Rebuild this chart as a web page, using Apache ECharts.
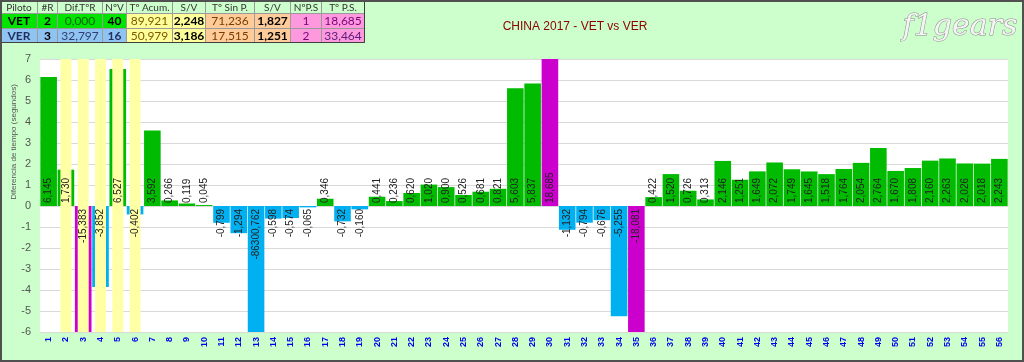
<!DOCTYPE html>
<html><head><meta charset="utf-8">
<script src="https://cdn.jsdelivr.net/npm/echarts@6/dist/echarts.min.js"></script>
<style>html,body{margin:0;padding:0;background:#ccffcc}#c{width:1024px;height:362px}</style>
</head><body><div id="c"></div>
<script>
// ---- data ----
const laps = ['1','2','3','4','5','6','7','8','9','10','11','12','13','14','15','16','17','18','19','20',
  '21','22','23','24','25','26','27','28','29','30','31','32','33','34','35','36','37','38','39','40',
  '41','42','43','44','45','46','47','48','49','50','51','52','53','54','55','56'];
const diffs = [6.145, 1.730, -15.383, -3.852, 6.527, -0.402, 3.592, 0.266, 0.119, 0.045,
  -0.799, -1.294, -86300.762, -0.598, -0.574, -0.065, 0.346, -0.732, -0.160, 0.441,
  0.236, 0.620, 1.020, 0.900, 0.526, 0.681, 0.821, 5.603, 5.837, 18.685,
  -1.132, -0.794, -0.676, -5.255, -18.081, 0.422, 1.520, 0.726, 0.313, 2.146,
  1.251, 1.649, 2.072, 1.749, 1.645, 1.518, 1.764, 2.054, 2.764, 1.670,
  1.808, 2.160, 2.263, 2.026, 2.018, 2.243];
const pitLaps = [3, 30, 35];
const safetyCarLaps = [2, 3, 4, 5, 6];
const yMin = -6, yMax = 7, yStep = 1;
const title = 'CHINA 2017 - VET vs VER';
const yName = 'Diferencia de tiempo (segundos)';
const tableHeader = ['Piloto','#R','Dif.TºR','NºV','Tº Acum.','S/V','Tº Sin P.','S/V','NºP.S','Tº P.S.'];
const rowVET = ['VET','2','0,000','40','89,921','2,248','71,236','1,827','1','18,685'];
const rowVER = ['VER','3','32,797','16','50,979','3,186','17,515','1,251','2','33,464'];

// ---- styles ----
const FONT = 'Liberation Sans';
const fmt = v => v.toFixed(3).replace('.', ',');
const baseLabel = {show: true, rotate: 90, verticalAlign: 'middle', fontSize: 10, fontFamily: FONT, color: '#222',
  formatter: p => fmt(p.value)};
const posLabel = Object.assign({}, baseLabel, {position: 'insideBottom', align: 'left', distance: 3});
const negLabel = Object.assign({}, baseLabel, {position: 'insideTop', align: 'right', distance: 3});
const item = v => ({value: v, label: v >= 0 ? posLabel : negLabel});

const greenData = diffs.map((v, i) => (!pitLaps.includes(i + 1) && v >= 0) ? item(v) : null);
const blueData = diffs.map((v, i) => (!pitLaps.includes(i + 1) && v < 0) ? item(v) : null);
const pitData = diffs.map((v, i) => pitLaps.includes(i + 1) ? item(v) : null);
const scUp = laps.map(l => safetyCarLaps.includes(+l) ? yMax : null);
const scDown = laps.map(l => safetyCarLaps.includes(+l) ? yMin : null);

// ---- table graphic ----
const colX = [0, 37, 57, 102, 126, 172, 205, 254, 290, 321, 364];
const rowY = [0, 13, 28, 42];
const colFill = [
  ['#ccffcc','#ccffcc','#ccffcc','#ccffcc','#ccffcc','#ccffcc','#ccffcc','#ccffcc','#ccffcc','#ccffcc'],
  ['#00e400','#00e400','#00e400','#00e400','#ffff99','#ffff99','#ffcc99','#ffcc99','#ff99dd','#ff99dd'],
  ['#8fc3f2','#8fc3f2','#8fc3f2','#8fc3f2','#ffff99','#ffff99','#ffcc99','#ffcc99','#ff99dd','#ff99dd']];
const txtColor = [
  Array(10).fill('#333'),
  ['#000','#000','#006400','#000','#7a5a00','#000','#7a3c00','#000','#7a007a','#7a007a'],
  ['#1f2f5f','#000','#2f3f6f','#1f2f5f','#7a5a00','#000','#7a3c00','#000','#7a007a','#5a1a7a']];
const bold = [
  Array(10).fill(false),
  [true,true,false,true,false,true,false,true,false,false],
  [true,true,false,true,false,true,false,true,false,false]];
const rows = [tableHeader, rowVET, rowVER];
const graphics = [];
rows.forEach((row, r) => row.forEach((t, c) => {
  graphics.push({type: 'rect', silent: true, shape: {x: colX[c] + 0.5, y: rowY[r] + 0.5, width: colX[c+1]-colX[c], height: rowY[r+1]-rowY[r]},
    style: {fill: colFill[r][c], stroke: '#9a9a9a', lineWidth: 1}});
  graphics.push({type: 'text', silent: true, x: (colX[c] + colX[c+1]) / 2 + 0.5, y: (rowY[r] + rowY[r+1]) / 2 + 1,
    style: {text: t, textAlign: 'center', textVerticalAlign: 'middle', fill: txtColor[r][c],
      font: (bold[r][c] ? 'bold ' : '') + (r === 0 ? '10px' : '12px') + ' Lato'}});
}));
graphics.push({type: 'rect', silent: true, shape: {x: 0.5, y: 0.5, width: 364, height: 42}, style: {fill: 'none', stroke: '#404040', lineWidth: 1}});
graphics.push({type: 'text', silent: true, x: 575, y: 27, style: {text: title, textAlign: 'center', textVerticalAlign: 'middle', fill: '#8b0000', font: '12px ' + FONT}});
graphics.push({type: 'text', silent: true, x: 14, y: 142, rotation: Math.PI / 2,
  style: {text: yName, textAlign: 'center', textVerticalAlign: 'middle', fill: '#555', font: '8px ' + FONT}});
graphics.push({type: 'text', silent: true, x: 960, y: 27, style: {text: 'f1gears', textAlign: 'center', textVerticalAlign: 'middle',
  fill: '#f4f4f4', stroke: '#8a8a8a', lineWidth: 1, font: 'italic 30px DejaVu Serif'}});
graphics.push({type: 'rect', silent: true, shape: {x: 1, y: 1, width: 1022, height: 360}, style: {fill: 'none', stroke: '#505050', lineWidth: 2}});

const chart = echarts.init(document.getElementById('c'), null, {renderer: 'canvas'});
chart.setOption({
  animation: false,
  backgroundColor: '#ccffcc',
  grid: {left: 40, right: 16, top: 59, bottom: 30, show: true, backgroundColor: '#ffffff', borderWidth: 0},
  xAxis: [{type: 'category', data: laps, axisLine: {show: false}, axisTick: {show: false},
    axisLabel: {interval: 0, rotate: 90, color: '#0000ee', fontWeight: 'bold', fontSize: 9, fontFamily: FONT, margin: 5}},
    {type: 'category', data: laps, show: false}],
  yAxis: {type: 'value', min: yMin, max: yMax, interval: yStep, axisLine: {show: false}, axisTick: {show: false},
    axisLabel: {color: '#555', fontSize: 11, fontFamily: FONT, margin: 9},
    splitLine: {lineStyle: {color: '#d9d9d9', width: 1}}},
  series: [
    {name: 'VET', type: 'bar', data: greenData, barWidth: '96%', barGap: '-100%', itemStyle: {color: '#00bb00'}, z: 2},
    {name: 'VER', type: 'bar', data: blueData, barWidth: '96%', barGap: '-100%', itemStyle: {color: '#00b0f0'}, z: 2},
    {name: 'Pit', type: 'bar', data: pitData, barWidth: '96%', barGap: '-100%', itemStyle: {color: '#cc00cc'}, z: 2},
    {name: 'SC+', type: 'bar', xAxisIndex: 1, data: scUp, barWidth: 11, barGap: '-100%', itemStyle: {color: '#ffffa6'}, z: 2},
    {name: 'SC-', type: 'bar', xAxisIndex: 1, data: scDown, barWidth: 11, barGap: '-100%', itemStyle: {color: '#ffffa6'}, z: 2}
  ],
  graphic: graphics
});
</script></body></html>
